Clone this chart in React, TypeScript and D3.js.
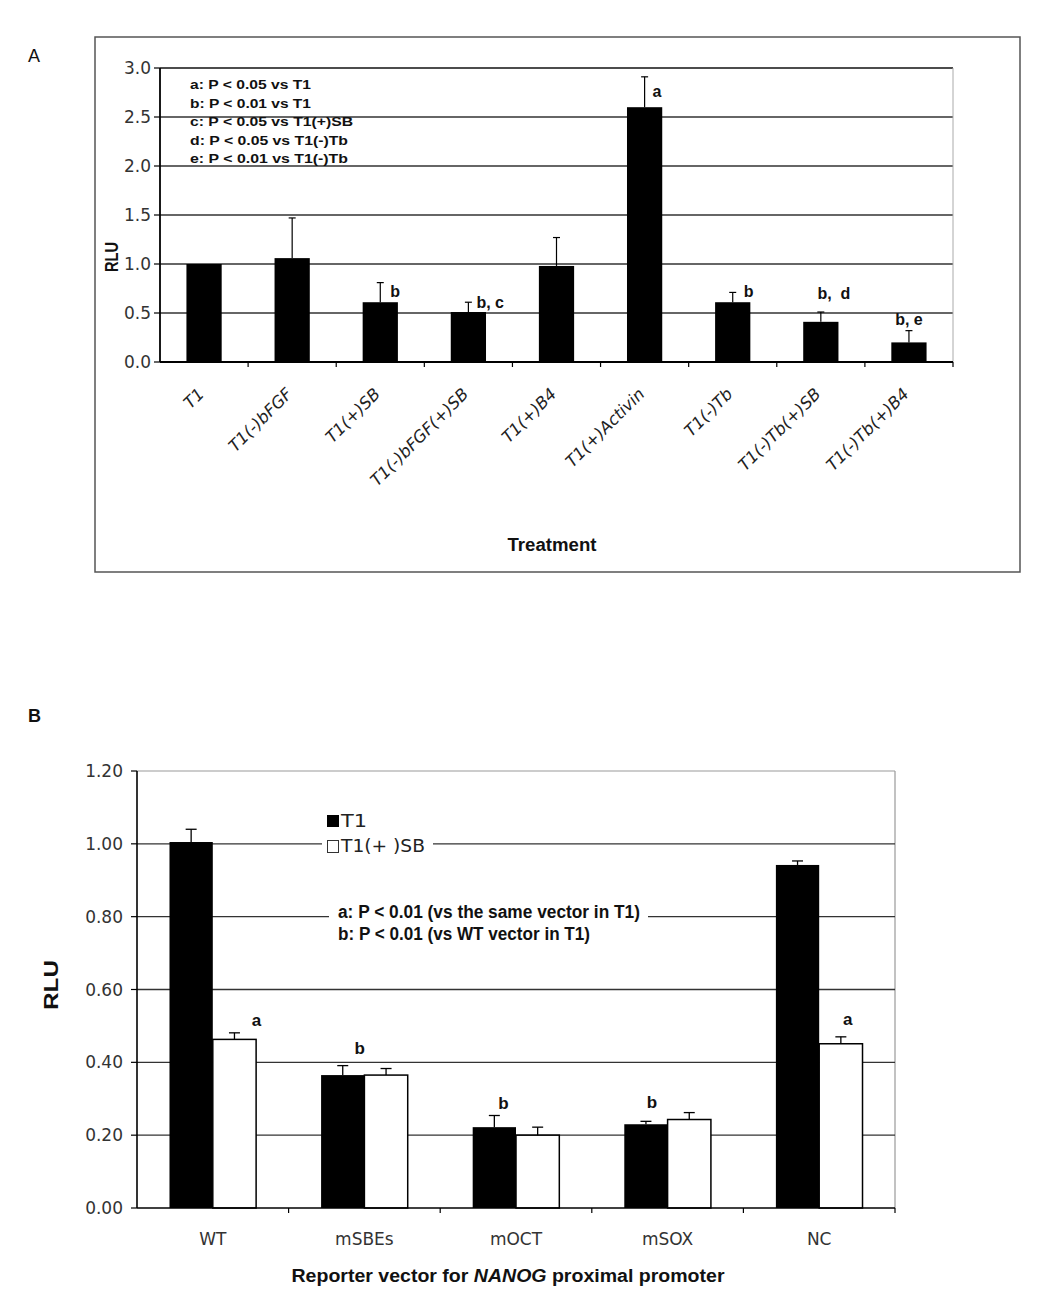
import React from "react";
import * as d3 from "d3";

// ---------- Panel A data ----------
const catsA = ["T1", "T1(-)bFGF", "T1(+)SB", "T1(-)bFGF(+)SB", "T1(+)B4", "T1(+)Activin", "T1(-)Tb", "T1(-)Tb(+)SB", "T1(-)Tb(+)B4"];
const meanA = [1.0, 1.06, 0.61, 0.51, 0.98, 2.6, 0.61, 0.41, 0.2];
const errA = [0, 0.41, 0.2, 0.1, 0.29, 0.31, 0.1, 0.1, 0.12];
const sigA = ["", "", "b", "b, c", "", "a", "b", "b,  d", "b, e"];
const ticksA = [0, 0.5, 1.0, 1.5, 2.0, 2.5, 3.0];
const notesA = [
  "a: P < 0.05 vs T1",
  "b: P < 0.01 vs T1",
  "c: P < 0.05 vs T1(+)SB",
  "d: P < 0.05 vs T1(-)Tb",
  "e: P < 0.01 vs T1(-)Tb",
];

// ---------- Panel B data ----------
const catsB = ["WT", "mSBEs", "mOCT", "mSOX", "NC"];
const seriesB = ["T1", "T1(+ )SB"];
const t1B = [1.005, 0.365, 0.222, 0.23, 0.942];
const t1ErrB = [0.035, 0.026, 0.032, 0.008, 0.011];
const sbB = [0.463, 0.365, 0.2, 0.243, 0.451];
const sbErrB = [0.018, 0.018, 0.022, 0.019, 0.019];
const sigT1B = ["", "b", "b", "b", ""];
const sigSbB = ["a", "", "", "", "a"];
const ticksB = [0, 0.2, 0.4, 0.6, 0.8, 1.0, 1.2];
const notesB = ["a: P < 0.01 (vs the same vector in T1)", "b: P < 0.01 (vs WT vector in T1)"];

// ---------- layout (not data) ----------
const sigAPlace: Record<number, { dx: number; dy: number; anchor: string }> = {
  2: { dx: 10, dy: 14, anchor: "start" },
  3: { dx: 8, dy: 6, anchor: "start" },
  5: { dx: 8, dy: 20, anchor: "start" },
  6: { dx: 11, dy: 5, anchor: "start" },
  7: { dx: 13, dy: -13, anchor: "middle" },
  8: { dx: 0, dy: -6, anchor: "middle" },
};
const sigBPlace: Record<string, { dx: number; dy: number }> = {
  "0-1": { dx: 22, dy: -7 },
  "4-1": { dx: 7, dy: -12 },
  "1-0": { dx: 17, dy: -12 },
  "2-0": { dx: 9, dy: -7 },
  "3-0": { dx: 6, dy: -13 },
};
const notesAWidths = [121, 121, 163, 158, 158];
const notesBWidths = [302, 252];

const tickFont = "'DejaVu Sans', Verdana, sans-serif";
const boldFont = "'Liberation Sans Narrow', 'Liberation Sans', Arial, sans-serif";
const sansFont = "'Liberation Sans', Arial, sans-serif";

function PanelA() {
  const x = d3.scaleBand<string>().domain(catsA).range([160, 953]).paddingInner(0.6).paddingOuter(0.3);
  const y = d3.scaleLinear().domain([0, 3]).range([362, 68]);
  const step = x.step();
  const bw = x.bandwidth();
  const cx = (i: number) => (x(catsA[i]) as number) + bw / 2;
  return (
    <g>
      <text x={28} y={62} fontFamily={sansFont} fontSize={18} fill="#111">A</text>
      <rect x={95} y={37} width={925} height={535} fill="none" stroke="#555" strokeWidth={1.5} />
      {/* gridlines */}
      {ticksA.filter((t) => t > 0).map((t) => (
        <line key={t} x1={160} x2={953} y1={y(t)} y2={y(t)} stroke={t === 3 ? "#111" : "#333"} strokeWidth={t === 3 ? 1.6 : 1.3} />
      ))}
      <line x1={953} x2={953} y1={y(3)} y2={y(0)} stroke="#aaa" strokeWidth={1} />
      {/* notes */}
      {notesA.map((n, i) => (
        <text key={n} x={190} y={89 + i * 18.6} fontFamily={boldFont} fontWeight="bold" fontSize={13.5} fill="#111"
          textLength={notesAWidths[i]} lengthAdjust="spacingAndGlyphs">{n}</text>
      ))}
      {/* bars */}
      {catsA.map((c, i) => (
        <rect key={c} x={x(c)} y={y(meanA[i])} width={bw} height={y(0) - y(meanA[i])} fill="#000" />
      ))}
      {/* error bars */}
      {catsA.map((c, i) =>
        errA[i] > 0 ? (
          <g key={"e" + c} stroke="#000" strokeWidth={1.2}>
            <line x1={cx(i)} x2={cx(i)} y1={y(meanA[i])} y2={y(meanA[i] + errA[i])} />
            <line x1={cx(i) - 3.5} x2={cx(i) + 3.5} y1={y(meanA[i] + errA[i])} y2={y(meanA[i] + errA[i])} />
          </g>
        ) : null
      )}
      {/* significance */}
      {catsA.map((c, i) => {
        if (!sigA[i]) return null;
        const p = sigAPlace[i];
        return (
          <text key={"s" + c} x={cx(i) + p.dx} y={y(meanA[i] + errA[i]) + p.dy} textAnchor={p.anchor}
            fontFamily={boldFont} fontWeight="bold" fontSize={16} fill="#111" style={{ whiteSpace: "pre" }}>{sigA[i]}</text>
        );
      })}
      {/* axes */}
      <line x1={160} x2={160} y1={y(3)} y2={y(0)} stroke="#000" strokeWidth={1.8} />
      <line x1={160} x2={953} y1={y(0)} y2={y(0)} stroke="#000" strokeWidth={1.8} />
      {ticksA.map((t) => (
        <g key={"t" + t}>
          <line x1={154} x2={160} y1={y(t)} y2={y(t)} stroke="#000" strokeWidth={1.2} />
          <text x={151} y={y(t)} dy="0.36em" textAnchor="end" fontFamily={tickFont} fontSize={17} fill="#333">{t.toFixed(1)}</text>
        </g>
      ))}
      {catsA.map((c, i) => (
        <line key={"xt" + c} x1={160 + (i + 1) * step} x2={160 + (i + 1) * step} y1={y(0)} y2={y(0) + 5} stroke="#000" strokeWidth={1.2} />
      ))}
      {catsA.map((c, i) => (
        <text key={"xl" + c} transform={`translate(${cx(i) + 1},${395}) rotate(-45)`} textAnchor="end"
          fontFamily={tickFont} fontStyle="italic" fontSize={16.5} fill="#222">{c}</text>
      ))}
      <text transform={`translate(118,257) rotate(-90)`} textAnchor="middle" fontFamily={sansFont} fontWeight="bold" fontSize={18}
        fill="#111" textLength={30} lengthAdjust="spacingAndGlyphs">RLU</text>
      <text x={552} y={551} textAnchor="middle" fontFamily={sansFont} fontWeight="bold" fontSize={18} fill="#111"
        textLength={89} lengthAdjust="spacingAndGlyphs">Treatment</text>
    </g>
  );
}

function PanelB() {
  const x0 = d3.scaleBand<string>().domain(catsB).range([137, 895]).paddingInner(1.5 / 3.5).paddingOuter(0.75 / 3.5);
  const x1 = d3.scaleBand<string>().domain(seriesB).range([0, x0.bandwidth()]);
  const y = d3.scaleLinear().domain([0, 1.2]).range([1208, 771]);
  const step = x0.step();
  const bw = x1.bandwidth();
  const vals = [t1B, sbB];
  const errs = [t1ErrB, sbErrB];
  const sigs = [sigT1B, sigSbB];
  const fills = ["#000", "#fff"];
  const bx = (ci: number, si: number) => (x0(catsB[ci]) as number) + (x1(seriesB[si]) as number);
  return (
    <g>
      <text x={28} y={722} fontFamily={sansFont} fontWeight="bold" fontSize={18} fill="#111">B</text>
      {/* plot border */}
      <line x1={137} x2={895} y1={y(1.2)} y2={y(1.2)} stroke="#999" strokeWidth={1.2} />
      <line x1={895} x2={895} y1={y(1.2)} y2={y(0)} stroke="#999" strokeWidth={1.2} />
      {ticksB.filter((t) => t > 0 && t < 1.2).map((t) => (
        <line key={t} x1={137} x2={895} y1={y(t)} y2={y(t)} stroke="#333" strokeWidth={1.3} />
      ))}
      {/* legend */}
      <rect x={322} y={808} width={111} height={50} fill="#fff" />
      <rect x={327} y={815} width={12} height={12} fill="#000" />
      <text x={341} y={827} fontFamily={tickFont} fontSize={17} fill="#222" textLength={26} lengthAdjust="spacingAndGlyphs">{seriesB[0]}</text>
      <rect x={327.5} y={840.5} width={11} height={12} fill="#fff" stroke="#333" strokeWidth={1} />
      <text x={341} y={852} fontFamily={tickFont} fontSize={17} fill="#222" textLength={84} lengthAdjust="spacingAndGlyphs">{seriesB[1]}</text>
      {/* notes */}
      <rect x={329} y={899} width={319} height={47} fill="#fff" />
      {notesB.map((n, i) => (
        <text key={n} x={338} y={918 + i * 22} fontFamily={boldFont} fontWeight="bold" fontSize={18} fill="#111"
          textLength={notesBWidths[i]} lengthAdjust="spacingAndGlyphs">{n}</text>
      ))}
      {/* bars */}
      {catsB.map((c, ci) =>
        seriesB.map((s, si) => (
          <rect key={c + s} x={bx(ci, si)} y={y(vals[si][ci])} width={bw} height={y(0) - y(vals[si][ci])}
            fill={fills[si]} stroke="#000" strokeWidth={si === 1 ? 1.5 : 0} />
        ))
      )}
      {catsB.map((c, ci) =>
        seriesB.map((s, si) => {
          const xc = bx(ci, si) + bw / 2;
          const top = y(vals[si][ci] + errs[si][ci]);
          return (
            <g key={"e" + c + s} stroke="#000" strokeWidth={1.3}>
              <line x1={xc} x2={xc} y1={y(vals[si][ci])} y2={top} />
              <line x1={xc - 5.5} x2={xc + 5.5} y1={top} y2={top} />
            </g>
          );
        })
      )}
      {catsB.map((c, ci) =>
        seriesB.map((s, si) => {
          const t = sigs[si][ci];
          if (!t) return null;
          const p = sigBPlace[`${ci}-${si}`];
          const xc = bx(ci, si) + bw / 2;
          return (
            <text key={"s" + c + s} x={xc + p.dx} y={y(vals[si][ci] + errs[si][ci]) + p.dy} textAnchor="middle"
              fontFamily={boldFont} fontWeight="bold" fontSize={17} fill="#111">{t}</text>
          );
        })
      )}
      {/* axes */}
      <line x1={137} x2={137} y1={y(1.2)} y2={y(0)} stroke="#000" strokeWidth={1.6} />
      <line x1={137} x2={895} y1={y(0)} y2={y(0)} stroke="#000" strokeWidth={1.6} />
      {ticksB.map((t) => (
        <g key={"t" + t}>
          <line x1={131} x2={137} y1={y(t)} y2={y(t)} stroke="#000" strokeWidth={1.2} />
          <text x={123} y={y(t)} dy="0.36em" textAnchor="end" fontFamily={tickFont} fontSize={17} fill="#333">{t.toFixed(2)}</text>
        </g>
      ))}
      {catsB.map((c, i) => (
        <line key={"xt" + c} x1={137 + (i + 1) * step} x2={137 + (i + 1) * step} y1={y(0)} y2={y(0) + 5} stroke="#000" strokeWidth={1.2} />
      ))}
      {catsB.map((c) => (
        <text key={"xl" + c} x={(x0(c) as number) + x0.bandwidth() / 2} y={1245} textAnchor="middle" fontFamily={tickFont}
          fontSize={17} fill="#333">{c}</text>
      ))}
      <text transform={`translate(58,985) rotate(-90)`} textAnchor="middle" fontFamily={sansFont} fontWeight="bold" fontSize={21}
        fill="#111" textLength={50} lengthAdjust="spacingAndGlyphs">RLU</text>
      <text x={508} y={1282} textAnchor="middle" fontFamily={boldFont} fontWeight="bold" fontSize={18} fill="#111"
        textLength={433} lengthAdjust="spacingAndGlyphs">
        Reporter vector for <tspan fontStyle="italic">NANOG</tspan> proximal promoter
      </text>
    </g>
  );
}

export default function App() {
  return (
    <svg width={1050} height={1313} viewBox="0 0 1050 1313" style={{ position: "absolute", left: 0, top: 0, background: "#fff" }}>
      <rect x={0} y={0} width={1050} height={1313} fill="#fff" />
      <PanelA />
      <PanelB />
    </svg>
  );
}
